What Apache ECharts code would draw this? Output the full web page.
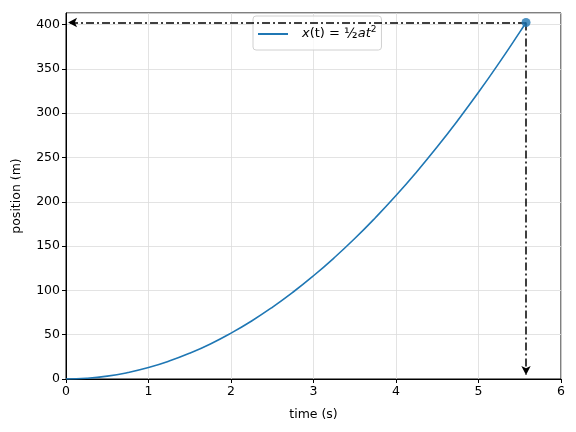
<!DOCTYPE html>
<html>
<head>
<meta charset="utf-8">
<script src="https://cdn.jsdelivr.net/npm/echarts@6/dist/echarts.min.js"></script>
<style>
  html, body { margin: 0; padding: 0; background: #fff; }
  #chart { width: 576px; height: 432px; }
</style>
</head>
<body>
<div id="chart"></div>
<script>
// time (s) and position (m)
const times = [0, 0.25, 0.5, 0.75, 1, 1.25, 1.5, 1.75, 2, 2.25, 2.5, 2.75, 3, 3.25, 3.5, 3.75, 4, 4.25, 4.5, 4.75, 5, 5.25, 5.5, 5.576];
const positions = [0, 0.8, 3.2, 7.3, 12.9, 20.2, 29.1, 39.6, 51.8, 65.5, 80.9, 97.9, 116.5, 136.7, 158.5, 182, 207, 233.7, 262, 292, 323.5, 356.7, 391.4, 402.3];
const finish = [5.576, 402.3];
const arrowEnds = { left: 0.025, bottom: 4.5 };

const blue = '#1f77b4';
const font = 'DejaVu Sans';

const chart = echarts.init(document.getElementById('chart'));

const dashDot = { color: '#000', width: 1.5, type: [8, 3, 2, 3] };

chart.setOption({
  animation: false,
  textStyle: { fontFamily: font },
  grid: {
    left: 66, right: 15, top: 13, bottom: 53,
    show: true, borderColor: '#000', borderWidth: 1
  },
  legend: {
    left: 253, top: 16,
    itemWidth: 30, itemHeight: 2,
    itemGap: 0,
    padding: [9, 5, 9, 5],
    borderColor: '#d0d0d0', borderWidth: 1, borderRadius: 3,
    backgroundColor: 'rgba(255,255,255,0.8)',
    data: [{ name: 'x', icon: 'rect' }],
    formatter: () => '{i|x}{n|(t) = }{f|½}{i|at}{s|2}',
    textStyle: {
      rich: {
        i: { fontFamily: font, fontStyle: 'italic', fontSize: 13, color: '#000', lineHeight: 18 },
        n: { fontFamily: font, fontSize: 13, color: '#000', lineHeight: 18 },
        f: { fontFamily: font, fontSize: 14, color: '#000', lineHeight: 18 },
        s: { fontFamily: font, fontSize: 9, color: '#000', verticalAlign: 'top', padding: [0, 0, 6, 0] }
      },
      padding: [0, 0, 0, 9]
    }
  },
  xAxis: {
    type: 'value', min: 0, max: 6, interval: 1,
    name: 'time (s)', nameLocation: 'middle', nameGap: 29,
    nameTextStyle: { fontSize: 12.5, color: '#000' },
    axisLine: { show: true, lineStyle: { color: '#000' } },
    axisTick: { show: true, inside: false, length: 4, lineStyle: { color: '#000' } },
    axisLabel: { fontSize: 12.5, color: '#000', margin: 6 },
    splitLine: { show: true, lineStyle: { color: '#dcdcdc', width: 0.8 } }
  },
  yAxis: {
    type: 'value', min: 0, max: 413, interval: 50,
    name: 'position (m)', nameLocation: 'middle', nameGap: 43,
    nameTextStyle: { fontSize: 12.5, color: '#000' },
    axisLine: { show: true, lineStyle: { color: '#000' } },
    axisTick: { show: true, inside: false, length: 4, lineStyle: { color: '#000' } },
    axisLabel: { fontSize: 12.5, color: '#000', margin: 6, showMaxLabel: false },
    splitLine: { show: true, lineStyle: { color: '#dcdcdc', width: 0.8 } }
  },
  series: [
    {
      name: 'x',
      type: 'line',
      data: times.map((t, i) => [t, positions[i]]),
      smooth: true,
      showSymbol: false,
      lineStyle: { color: blue, width: 1.6 },
      itemStyle: { color: blue },
      z: 3,
      markLine: {
        silent: true,
        symbol: ['none', 'arrow'],
        symbolSize: [7, 9],
        label: { show: false },
        lineStyle: dashDot,
        data: [
          [{ coord: finish }, { coord: [arrowEnds.left, finish[1]] }],
          [{ coord: finish }, { coord: [finish[0], arrowEnds.bottom] }]
        ]
      }
    },
    {
      name: 'finish',
      type: 'scatter',
      data: [finish],
      symbolSize: 9,
      itemStyle: { color: blue },
      z: 5
    }
  ]
});
</script>
</body>
</html>
